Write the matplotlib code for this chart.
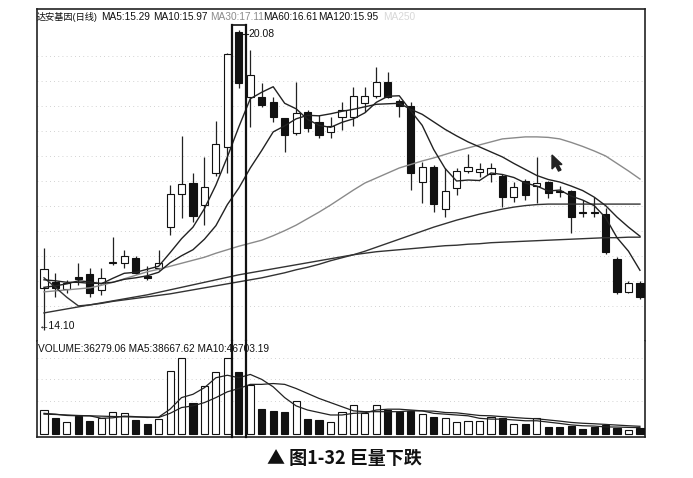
import matplotlib
matplotlib.use("Agg")
import matplotlib.pyplot as plt
from matplotlib.patches import Polygon
import numpy as np

plt.rcParams['font.family'] = ['Liberation Sans', 'Noto Sans CJK SC', 'DejaVu Sans']

# daily candles (open, close, high, low)
opens = [14.94, 15.06, 14.92, 15.16, 15.22, 14.90, 15.44, 15.44, 15.53, 15.18,
         15.34, 16.15, 16.81, 17.03, 16.59, 17.23, 17.75, 20.04, 18.74, 18.74,
         18.64, 18.33, 18.03, 18.45, 18.25, 18.05, 18.35, 18.35, 18.62, 18.76,
         19.04, 18.66, 18.56, 17.05, 17.35, 16.51, 16.93, 17.27, 17.25, 17.21,
         17.17, 16.75, 17.07, 16.97, 17.05, 16.87, 16.87, 16.45, 16.45, 16.41,
         15.52, 14.86, 15.04]
closes = [15.32, 14.94, 15.04, 15.12, 14.84, 15.14, 15.46, 15.57, 15.24, 15.14,
          15.44, 16.81, 17.01, 16.37, 16.95, 17.81, 19.60, 19.02, 19.18, 18.58,
          18.35, 17.99, 18.43, 18.13, 17.99, 18.17, 18.49, 18.76, 18.76, 19.04,
          18.74, 18.56, 17.23, 17.35, 16.61, 16.87, 17.27, 17.35, 17.31, 17.33,
          16.75, 16.95, 16.79, 17.03, 16.83, 16.85, 16.35, 16.43, 16.43, 15.65,
          14.86, 15.04, 14.76]
highs = [15.73, 15.24, 15.10, 15.44, 15.34, 15.34, 15.95, 15.69, 15.57, 15.38,
         15.69, 16.99, 17.97, 17.23, 17.55, 18.27, 19.62, 20.08, 19.68, 19.02,
         18.74, 18.33, 19.04, 18.49, 18.39, 18.35, 18.64, 18.94, 18.94, 19.34,
         19.24, 18.70, 18.64, 17.45, 17.39, 17.33, 17.33, 17.61, 17.43, 17.43,
         17.21, 17.05, 17.11, 17.55, 17.07, 16.97, 16.89, 16.69, 16.75, 16.53,
         15.56, 15.08, 15.08]
lows = [14.10, 14.76, 14.84, 14.99, 14.76, 14.80, 15.40, 15.34, 15.22, 15.10,
        15.30, 15.99, 16.33, 16.25, 16.19, 17.17, 17.23, 18.92, 18.15, 18.54,
        18.25, 17.65, 17.99, 18.05, 17.93, 17.93, 18.09, 18.17, 18.45, 18.72,
        18.72, 18.35, 16.89, 16.63, 16.45, 16.35, 16.79, 17.23, 17.15, 17.05,
        16.55, 16.65, 16.69, 16.63, 16.73, 16.75, 16.03, 16.35, 16.35, 15.61,
        14.82, 14.84, 14.72]

ma5 = [14.95, 14.98, 15.02, 15.08, 15.06, 15.02, 15.13, 15.23, 15.25, 15.31,
       15.37, 15.64, 15.92, 16.15, 16.52, 16.99, 17.55, 18.15, 18.71, 18.84,
       18.95, 18.62, 18.51, 18.30, 18.18, 18.14, 18.24, 18.31, 18.43, 18.64,
       18.76, 18.77, 18.47, 18.18, 17.70, 17.32, 17.07, 17.09, 17.08, 17.23,
       17.20, 17.14, 17.03, 16.97, 16.87, 16.89, 16.77, 16.69, 16.58, 16.34,
       15.94, 15.67, 15.29]
ma10 = [15.10, 15.08, 15.05, 15.05, 15.03, 15.03, 15.05, 15.11, 15.14, 15.18,
        15.25, 15.44, 15.58, 15.70, 15.91, 16.18, 16.60, 16.93, 17.33, 17.68,
        18.05, 18.17, 18.31, 18.38, 18.37, 18.41, 18.46, 18.50, 18.55, 18.60,
        18.61, 18.62, 18.50, 18.40, 18.25, 18.10, 17.97, 17.85, 17.75, 17.65,
        17.55, 17.42, 17.30, 17.18, 17.10, 17.05, 16.97, 16.88, 16.75, 16.58,
        16.35, 16.15, 15.97]
ma30 = [14.86, 14.88, 14.90, 14.92, 14.94, 14.99, 15.05, 15.12, 15.19, 15.26,
        15.31, 15.37, 15.43, 15.49, 15.55, 15.63, 15.70, 15.77, 15.83, 15.89,
        15.98, 16.08, 16.19, 16.32, 16.45, 16.59, 16.74, 16.89, 17.03, 17.13,
        17.23, 17.33, 17.40, 17.47, 17.53, 17.60, 17.67, 17.73, 17.79, 17.85,
        17.91, 17.93, 17.95, 17.95, 17.94, 17.91, 17.84, 17.76, 17.67, 17.57,
        17.42, 17.27, 17.11]
ma60 = [15.14, 14.95, 14.75, 14.58, 14.60, 14.63, 14.67, 14.70, 14.73, 14.76,
        14.79, 14.82, 14.86, 14.90, 14.94, 14.98, 15.02, 15.06, 15.10, 15.14,
        15.19, 15.24, 15.30, 15.35, 15.41, 15.48, 15.54, 15.60, 15.67, 15.75,
        15.83, 15.91, 15.99, 16.07, 16.15, 16.22, 16.29, 16.35, 16.41, 16.46,
        16.51, 16.55, 16.58, 16.60, 16.61, 16.61, 16.61, 16.61, 16.61, 16.61,
        16.61, 16.61, 16.61]
ma120 = [14.44, 14.48, 14.52, 14.56, 14.60, 14.64, 14.68, 14.72, 14.76, 14.80,
         14.85, 14.90, 14.95, 15.00, 15.05, 15.10, 15.15, 15.20, 15.24, 15.28,
         15.32, 15.36, 15.40, 15.44, 15.48, 15.52, 15.56, 15.60, 15.63, 15.66,
         15.68, 15.70, 15.72, 15.74, 15.76, 15.78, 15.79, 15.81, 15.82, 15.84,
         15.85, 15.86, 15.87, 15.88, 15.89, 15.90, 15.91, 15.92, 15.93, 15.94,
         15.94, 15.95, 15.95]

volume = [145000, 97000, 73000, 109000, 79000, 97000, 133000, 127000, 85000, 60000,
          91000, 381000, 460000, 188000, 290000, 375000, 460000, 375000, 296000, 151000,
          139000, 133000, 200000, 91000, 85000, 73000, 133000, 175000, 127000, 175000,
          145000, 133000, 139000, 121000, 103000, 97000, 73000, 79000, 79000, 103000,
          97000, 60000, 60000, 97000, 42000, 42000, 48000, 30000, 42000, 54000,
          36000, 24000, 36279.06]
vol_ma5 = [125000, 120000, 112000, 110000, 110000, 95000, 98000, 108000, 105000, 100000,
           102000, 150000, 220000, 240000, 280000, 340000, 355000, 340000, 360000, 330000,
           285000, 220000, 170000, 145000, 130000, 115000, 115000, 125000, 128000, 145000,
           150000, 150000, 145000, 140000, 125000, 120000, 115000, 110000, 95000, 90000,
           90000, 85000, 80000, 80000, 72000, 64000, 55000, 50000, 48000, 43000,
           42000, 40000, 38667.62]
vol_ma10 = [120000, 118000, 115000, 112000, 110000, 108000, 106000, 104000, 103000, 103000,
            100000, 125000, 160000, 170000, 190000, 220000, 255000, 275000, 300000, 300000,
            305000, 300000, 275000, 245000, 215000, 190000, 165000, 140000, 135000, 135000,
            135000, 135000, 140000, 140000, 138000, 130000, 128000, 120000, 112000, 110000,
            105000, 100000, 95000, 92000, 85000, 78000, 70000, 65000, 62000, 58000,
            54000, 50000, 46703.19]

x = np.arange(len(opens))
up = np.array(closes) >= np.array(opens)

W, H = 693, 478
fig = plt.figure(figsize=(W / 100, H / 100), dpi=100)
ax = fig.add_axes([37 / W, (H - 341) / H, 608 / W, 332 / H])
axv = fig.add_axes([37 / W, (H - 437) / H, 608 / W, 96 / H])

# price panel
body_low = np.minimum(opens, closes)
body_h = np.maximum(np.abs(np.array(closes) - np.array(opens)), 0.02)
ax.vlines(x, lows, highs, color="#222222", lw=0.9, zorder=2)
ax.bar(x, body_h, bottom=body_low, width=0.62,
       color=np.where(up, "white", "#111111"), edgecolor="#111111", lw=0.8, zorder=3)
ax.plot(x, ma30, color="#8a8a8a", lw=1.0, zorder=4)
ax.plot(x, ma120, color="#333333", lw=1.0, zorder=4)
ax.plot(x, ma60, color="#333333", lw=1.0, zorder=4)
ax.plot(x, ma10, color="#222222", lw=1.0, zorder=4)
ax.plot(x, ma5, color="#222222", lw=1.0, zorder=4)
ax.set_xlim(-0.61, 52.44)
ax.set_ylim(13.88, 20.50)
ax.set_yticks(np.arange(14.57, 20.0, 0.5))
ax.grid(axis="y", color="#c4c4c4", lw=0.6, ls=(0, (1, 4)))
ax.set_xticks([])
ax.tick_params(left=False, labelleft=False)
for s in ax.spines.values():
    s.set_color("#222222")
    s.set_linewidth(1.2)
ax.spines["bottom"].set_color("#bbbbbb")
ax.spines["bottom"].set_linewidth(0.6)

# 20.08 high marker and 14.10 low marker
ax.plot([17.35, 17.8], [20.0, 20.0], color="#222222", lw=0.8)
ax.text(17.85, 20.0, "20.08", fontsize=7.5, va="center", ha="left", color="#111111")
ax.text(-0.45, 14.17, "←14.10", fontsize=7.5, va="center", ha="left", color="#111111")

# mouse pointer left on the screenshot
cur = np.array([(0, 0), (0, 14), (3.5, 10.5), (6.5, 16), (9, 15), (6, 9.5), (10, 9.5)])
fig.patches.append(Polygon(np.column_stack(((552 + cur[:, 0]) / W, 1 - (155 + cur[:, 1]) / H)),
                           closed=True, transform=fig.transFigure, color="#222222", zorder=8))

# volume panel
axv.bar(x, volume, width=0.62, color=np.where(up, "white", "#111111"),
        edgecolor="#111111", lw=0.8, zorder=3)
axv.plot(x, vol_ma5, color="#222222", lw=0.9, zorder=4)
axv.plot(x, vol_ma10, color="#222222", lw=0.9, zorder=4)
axv.set_xlim(-0.61, 52.44)
axv.set_ylim(-18000, 562000)
axv.set_yticks([200000, 330000, 460000])
axv.grid(axis="y", color="#c4c4c4", lw=0.6, ls=(0, (1, 4)))
axv.set_xticks([])
axv.tick_params(left=False, labelleft=False)
for s in axv.spines.values():
    s.set_color("#222222")
    s.set_linewidth(1.2)
axv.spines["top"].set_visible(False)

# highlight frame around the big-volume black candle
hx = 17
for a, top in ((ax, 20.18), (axv, 562000)):
    lo = a.get_ylim()[0]
    a.plot([hx - 0.62, hx - 0.62], [lo, top], color="#111111", lw=1.6, zorder=6, clip_on=False)
    a.plot([hx + 0.62, hx + 0.62], [lo, top], color="#111111", lw=1.6, zorder=6, clip_on=False)
ax.plot([hx - 0.62, hx + 0.62], [20.18, 20.18], color="#111111", lw=1.2, zorder=6)

# header texts
def px(xp, yp):
    return xp / W, 1 - yp / H

hdr = dict(fontsize=7.3, va="center")
fig.text(*px(37, 17), "达安基因(日线)", color="#111111", fontsize=6.6, va="center")
fig.text(*px(101, 17), "MA5:15.29", color="#111111", **hdr)
fig.text(*px(153, 17), "MA10:15.97", color="#111111", **hdr)
fig.text(*px(210, 17), "MA30:17.11", color="#8c8c8c", **hdr)
fig.text(*px(263, 17), "MA60:16.61", color="#111111", **hdr)
fig.text(*px(318, 17), "MA120:15.95", color="#111111", **hdr)
fig.text(*px(383, 17), "MA250", color="#d8d8d8", **hdr)
fig.text(*px(38, 349), "VOLUME:36279.06 MA5:38667.62 MA10:46703.19",
         color="#111111", **hdr)

fig.text(*px(344, 458), "▲ 图1-32 巨量下跌", fontsize=13, ha="center", va="center",
         family=["Noto Sans CJK SC", "DejaVu Sans"], fontweight="bold", color="#111111")

fig.savefig("out.png", dpi=100)
